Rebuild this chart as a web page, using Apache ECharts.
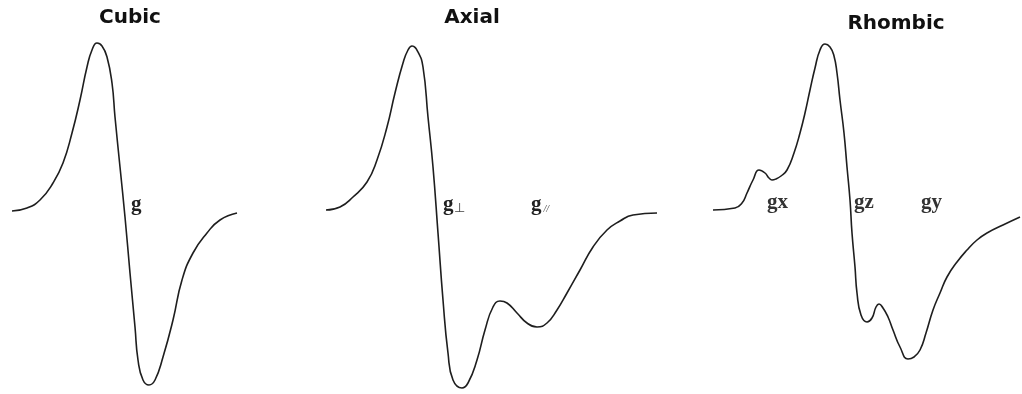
<!DOCTYPE html>
<html><head><meta charset="utf-8">
<script src="https://cdn.jsdelivr.net/npm/echarts@6/dist/echarts.min.js"></script>
<style>html,body{margin:0;padding:0;background:#fff}#c{width:1022px;height:394px}</style>
</head><body><div id="c"></div>
<script>
// Spectrum titles
const titles = ['Cubic', 'Axial', 'Rhombic'];

// Cubic spectrum (field in arbitrary units, derivative signal, baseline = 0)
const cubicField  = [0,15,28,41,51,60,68,75,80,85,90,95,100,103,108,113,118,123,126,131,137,143,151,161,170,181,195,208,225];
const cubicSignal = [0,3,11,28,48,78,111,144,161,168,165,154,128,94,44,-6,-62,-116,-149,-169,-174,-169,-146,-109,-69,-42,-22,-9,-2];

// Axial spectrum
const axialField  = [0,14,27,41,51,61,69,77,82,86,92,97,102,107,112,117,122,127,136,142,151,159,167,174,181,191,201,211,221,231,241,254,267,281,294,307,331];
const axialSignal = [1,4,14,29,51,84,118,148,161,165,159,144,94,44,-22,-89,-142,-169,-177,-172,-149,-119,-96,-90,-92,-102,-112,-116,-112,-99,-82,-59,-36,-19,-10,-4,-2];

// Rhombic spectrum
const rhombicField  = [0,22,29,34,40,46,52,56,59,63,68,74,81,87,92,97,102,107,112,117,121,124,127,131,134,137,139,142,144,148,154,159,163,166,170,175,180,187,195,201,207,213,220,227,234,244,254,264,274,290,307];
const rhombicSignal = [1,3,8,18,31,41,38,33,31,32,35,41,58,78,98,121,143,161,167,164,155,138,111,78,44,11,-22,-56,-82,-104,-111,-107,-96,-93,-97,-106,-119,-136,-148,-146,-139,-122,-99,-82,-66,-51,-39,-29,-22,-14,-6];

// g-value labels
const cubicLabels = ['g'];
const axialLabels = ['g', '⊥', 'g', '//'];
const rhombicLabels = ['gx', 'gz', 'gy'];

const zip = (a, b) => a.map((v, i) => [v, b[i]]);

const grids = [
  {left: 12, width: 225, top: 0, height: 394},
  {left: 326, width: 331, top: 0, height: 394},
  {left: 713, width: 309, top: 0, height: 394}
];
const spans = [225, 331, 309];
const lineStyle = {color: '#1e1e1e', width: 1.6};

const chart = echarts.init(document.getElementById('c'), null, {renderer: 'canvas'});
const titleFont = {fontFamily: 'DejaVu Sans', fontWeight: 'bold', fontSize: 20, fill: '#111'};
const serif = 'Liberation Serif';
const gStyle = {fontFamily: serif, fontWeight: 'bold', fontSize: 21, fill: '#222', verticalAlign: 'middle'};

const mkSeries = (i, f, s) => ({
  type: 'line', xAxisIndex: i, yAxisIndex: i, data: zip(f, s),
  smooth: 0.5, showSymbol: false, lineStyle
});

chart.setOption({
  backgroundColor: '#fff',
  animation: false,
  grid: grids,
  xAxis: spans.map((s, i) => ({type: 'value', gridIndex: i, min: 0, max: s, show: false})),
  yAxis: spans.map((s, i) => ({type: 'value', gridIndex: i, min: -183, max: 211, show: false})),
  series: [
    mkSeries(0, cubicField, cubicSignal),
    mkSeries(1, axialField, axialSignal),
    mkSeries(2, rhombicField, rhombicSignal)
  ],
  graphic: [
    {type: 'text', x: 130, y: 18, style: Object.assign({text: titles[0], align: 'center', verticalAlign: 'middle'}, titleFont)},
    {type: 'text', x: 472, y: 18, style: Object.assign({text: titles[1], align: 'center', verticalAlign: 'middle'}, titleFont)},
    {type: 'text', x: 896, y: 24, style: Object.assign({text: titles[2], align: 'center', verticalAlign: 'middle'}, titleFont)},
    {type: 'text', x: 131, y: 205, style: Object.assign({text: cubicLabels[0]}, gStyle)},
    {type: 'text', x: 443, y: 205, style: {
      text: '{g|' + axialLabels[0] + '}{s|' + axialLabels[1] + '}',
      verticalAlign: 'middle',
      rich: {g: {fontFamily: serif, fontWeight: 'bold', fontSize: 21, fill: '#222'},
             s: {fontFamily: serif, fontSize: 13, fill: '#444', padding: [7, 0, 0, 0]}}
    }},
    {type: 'text', x: 531, y: 205, style: {
      text: '{g|' + axialLabels[2] + '}{s|' + axialLabels[3] + '}',
      verticalAlign: 'middle',
      rich: {g: {fontFamily: serif, fontWeight: 'bold', fontSize: 21, fill: '#222'},
             s: {fontFamily: serif, fontStyle: 'italic', fontSize: 10, fill: '#444', padding: [9, 0, 0, 2]}}
    }},
    {type: 'text', x: 767, y: 203, style: Object.assign({text: rhombicLabels[0]}, gStyle, {fill: '#333'})},
    {type: 'text', x: 854, y: 203, style: Object.assign({text: rhombicLabels[1]}, gStyle, {fill: '#333'})},
    {type: 'text', x: 921, y: 203, style: Object.assign({text: rhombicLabels[2]}, gStyle, {fill: '#333'})}
  ]
});
</script>
</body></html>
